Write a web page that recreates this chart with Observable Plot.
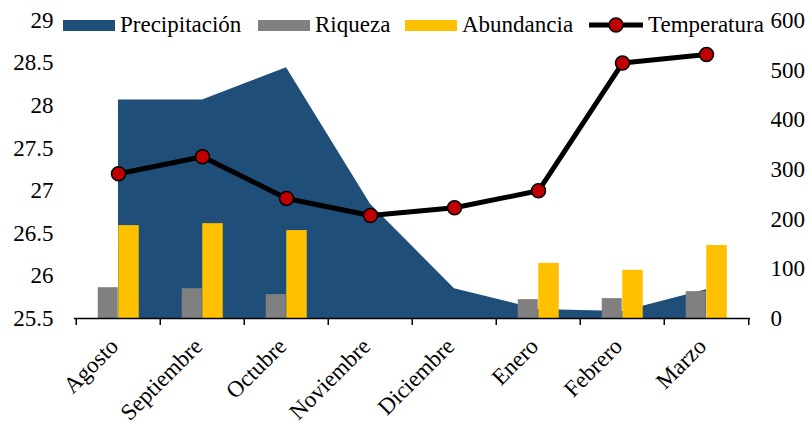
<!DOCTYPE html>
<html><head><meta charset="utf-8">
<script src="https://cdn.jsdelivr.net/npm/d3@7"></script>
<script src="https://cdn.jsdelivr.net/npm/@observablehq/plot@0.6"></script>
<style>
body{margin:0;background:#fff;font-family:"Liberation Serif","Times New Roman",serif;}
#wrap{position:relative;width:809px;height:424px;}
#wrap svg text{font-family:"Liberation Serif","Times New Roman",serif;}
.lg{position:absolute;top:12px;height:26px;display:flex;align-items:center;font-size:23px;color:#000;white-space:nowrap;background:#fff;}
.sw{display:inline-block;width:52px;height:11px;margin-right:5px;}
</style></head>
<body>
<div id="wrap"></div>
<script>
const months = ["Agosto","Septiembre","Octubre","Noviembre","Diciembre","Enero","Febrero","Marzo"];
const precipitacion = [440, 440, 505, 230, 60, 18, 14, 58];
const riqueza = [62, 60, 48, null, null, 38, 40, 54];
const abundancia = [187, 191, 177, null, null, 111, 97, 147];
const temperatura = [27.2, 27.4, 26.91, 26.71, 26.8, 27.0, 28.5, 28.6];
const leftTicks = [25.5, 26, 26.5, 27, 27.5, 28, 28.5, 29];
const rightTicks = [0, 100, 200, 300, 400, 500, 600];
const legendItems = ["Precipitación", "Riqueza", "Abundancia", "Temperatura"];

const colors = {precip: "#1F4E79", riq: "#808080", abu: "#FFC000", dot: "#C00000"};
const FONT = '"Liberation Serif","Times New Roman",serif';
const tMin = 25.5, tMax = 29, yMax = 600;
const toY = t => (t - tMin) / (tMax - tMin) * yMax;
const fromY = v => +(v / yMax * (tMax - tMin) + tMin).toFixed(1);

const rows = months.map((m, i) => ({month: m, precip: precipitacion[i], riq: riqueza[i], abu: abundancia[i], temp: temperatura[i]}));
const W = 809, H = 424, mL = 74, mR = 59;
const bw = (W - mL - mR) / months.length;

const chart = Plot.plot({
  width: W, height: H,
  marginLeft: mL, marginRight: mR, marginTop: 20, marginBottom: 106,
  style: {fontFamily: FONT, fontSize: "23px", color: "#000", background: "#fff"},
  x: {type: "band", domain: months, padding: 0, label: null},
  y: {domain: [0, yMax], label: null},
  marks: [
    Plot.areaY(rows, {x: "month", y: "precip", fill: colors.precip}),
    Plot.barY(rows.filter(d => d.riq != null), {x: "month", y: "riq", fill: colors.riq, insetLeft: bw/2 - 20.5, insetRight: bw/2}),
    Plot.barY(rows.filter(d => d.abu != null), {x: "month", y: "abu", fill: colors.abu, insetLeft: bw/2, insetRight: bw/2 - 21}),
    Plot.ruleY([0], {stroke: "#000", strokeWidth: 1.5}),
    Plot.line(rows, {x: "month", y: d => toY(d.temp), stroke: "#000", strokeWidth: 5}),
    Plot.dot(rows, {x: "month", y: d => toY(d.temp), r: 7, fill: colors.dot, stroke: "#000", strokeWidth: 1.5}),
    Plot.axisY(leftTicks.map(toY), {anchor: "left", tickSize: 0, tickPadding: 21, tickFormat: fromY, fontSize: 23, fontFamily: FONT, label: null}),
    Plot.axisY(rightTicks, {anchor: "right", tickSize: 0, tickPadding: 20, fontSize: 23, fontFamily: FONT, label: null}),
    Plot.axisX(months, {tickSize: 7, tickFormat: () => "", dx: -bw/2, stroke: "#000", strokeWidth: 1.5, label: null}),
    Plot.axisX([months[months.length-1]], {tickSize: 7, tickFormat: () => "", dx: bw/2, stroke: "#000", strokeWidth: 1.5, label: null}),
    Plot.axisX(months, {tickSize: 0, tickRotate: -45, tickPadding: 24, dx: -4, fontSize: 23, fontFamily: FONT, label: null})
  ]
});
const wrap = document.getElementById("wrap");
wrap.appendChild(chart);

// Legend (HTML overlay)
const lgPos = [63, 258, 405, 588];
legendItems.forEach((name, i) => {
  const d = document.createElement("div");
  d.className = "lg";
  d.style.left = lgPos[i] + "px";
  let sym;
  if (i < 3) {
    sym = `<span class="sw" style="background:${[colors.precip, colors.riq, colors.abu][i]}"></span>`;
  } else {
    sym = `<svg width="56" height="20" style="margin-right:4px"><line x1="1" x2="55" y1="10" y2="10" stroke="#000" stroke-width="5"/><circle cx="28" cy="10" r="7" fill="${colors.dot}" stroke="#000" stroke-width="1.5"/></svg>`;
  }
  d.innerHTML = sym + `<span>${name}</span>`;
  wrap.appendChild(d);
});
</script>
</body></html>
